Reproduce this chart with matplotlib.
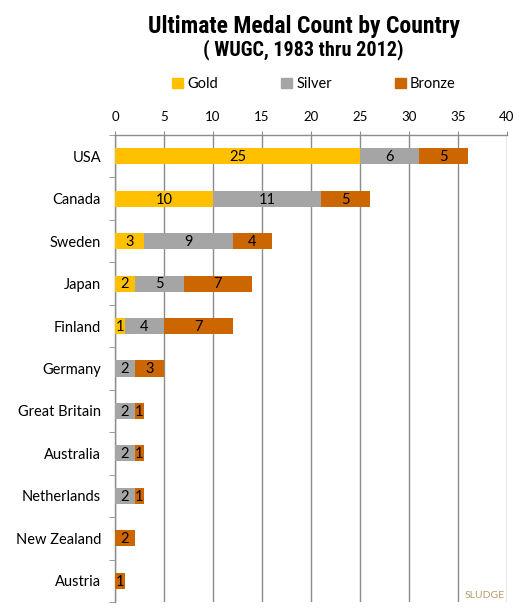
import numpy as np
import matplotlib.pyplot as plt
from matplotlib.patches import Rectangle

countries = ["USA", "Canada", "Sweden", "Japan", "Finland", "Germany",
             "Great Britain", "Australia", "Netherlands", "New Zealand", "Austria"]
gold = [25, 10, 3, 2, 1, 0, 0, 0, 0, 0, 0]
silver = [6, 11, 9, 5, 4, 2, 2, 2, 2, 0, 0]
bronze = [5, 5, 4, 7, 7, 3, 1, 1, 1, 2, 1]
x_ticks = [0, 5, 10, 15, 20, 25, 30, 35, 40]

colors = {"Gold": "#FFC000", "Silver": "#A5A5A5", "Bronze": "#CC6600"}
body_font = ["Lato", "DejaVu Sans"]
title_font = ["Roboto Condensed", "Liberation Sans Narrow", "Liberation Sans", "DejaVu Sans"]
grid_c = "#8C8C8C"

fig = plt.figure(figsize=(5.27, 6.09), dpi=100)
ax = fig.add_axes([115 / 527, 1 - 602 / 609, 392 / 527, 467 / 609])

y = np.arange(len(countries))
left = np.zeros(len(countries))
for name, vals in [("Gold", gold), ("Silver", silver), ("Bronze", bronze)]:
    vals = np.array(vals)
    bars = ax.barh(y, vals, left=left, height=0.38, color=colors[name], zorder=3)
    for b, v in zip(bars, vals):
        if v > 0:
            ax.text(b.get_x() + b.get_width() / 2, b.get_y() + b.get_height() / 2 + 0.02,
                    str(v), ha="center", va="center", fontsize=10.5,
                    family=body_font, color="black", zorder=4)
    left = left + vals

ax.set_xlim(0, 40)
ax.set_ylim(len(countries) - 0.5, -0.5)
ax.set_xticks(x_ticks)
ax.xaxis.tick_top()
ax.tick_params(axis="x", length=3, color=grid_c, pad=6, labelsize=9.5)
for lab in ax.get_xticklabels():
    lab.set_family(body_font)

ax.set_yticks(y)
ax.set_yticklabels(countries, family=body_font, fontsize=10.5)
ax.set_yticks(np.arange(-0.5, len(countries)), minor=True)
ax.tick_params(axis="y", which="major", length=0, pad=10)
ax.tick_params(axis="y", which="minor", length=4, color=grid_c)

ax.grid(axis="x", color=grid_c, linewidth=1, zorder=0)
for s in ["right", "bottom"]:
    ax.spines[s].set_visible(False)
for s in ["top", "left"]:
    ax.spines[s].set_color(grid_c)
    ax.spines[s].set_linewidth(1)

fig.text(304 / 527, 1 - 27 / 609, "Ultimate Medal Count by Country", ha="center",
         va="center", fontsize=17, fontweight="bold", family=title_font)
fig.text(303 / 527, 1 - 50 / 609, "( WUGC, 1983 thru 2012)", ha="center",
         va="center", fontsize=14.5, fontweight="bold", family=title_font)

handles = [Rectangle((0, 0), 1, 1, color=colors[k]) for k in colors]
fig.legend(handles, list(colors.keys()), loc="center", bbox_to_anchor=(314 / 527, 1 - 84 / 609),
           ncol=3, frameon=False, prop={"family": body_font, "size": 10.5},
           handlelength=0.75, handleheight=0.75, handletextpad=0.3, columnspacing=4.3)

fig.text(485 / 527, 1 - 596 / 609, "SLUDGE", ha="center", va="center",
         fontsize=7.5, color="#B89A66", family=body_font)

fig.savefig("out.png", dpi=100)
